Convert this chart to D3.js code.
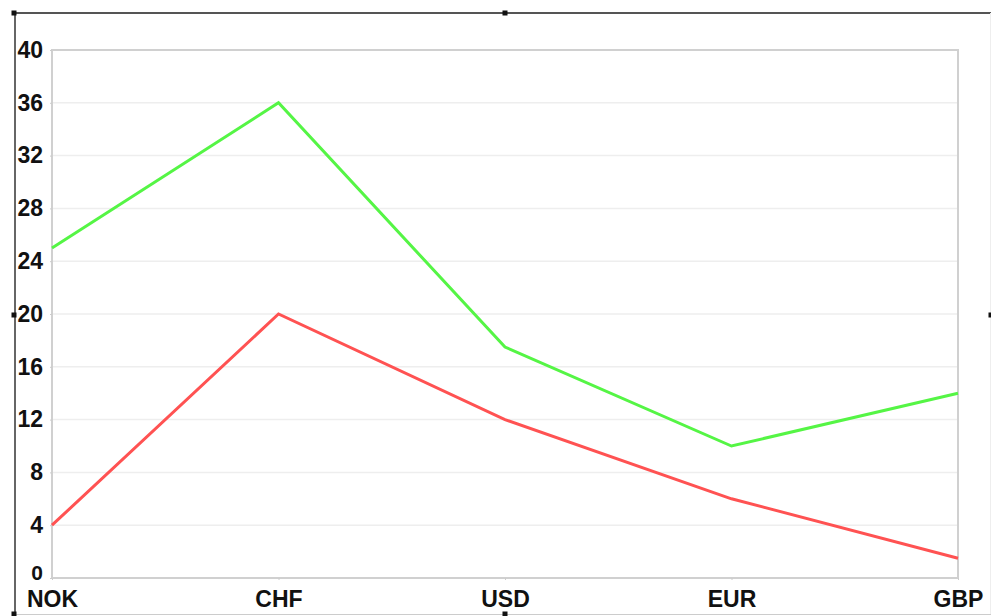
<!DOCTYPE html>
<html>
<head>
<meta charset="utf-8">
<script src="https://cdn.jsdelivr.net/npm/d3@7"></script>
<style>
  body { margin: 0; background: #fff; }
  svg { display: block; }
</style>
</head>
<body>
<script>
// data
const currencies = ["NOK", "CHF", "USD", "EUR", "GBP"];
const greenValues = [25, 36, 17.5, 10, 14];
const redValues = [4, 20, 12, 6, 1.5];
const yTicks = [0, 4, 8, 12, 16, 20, 24, 28, 32, 36, 40];

const width = 991, height = 616;
const plot = { left: 52, right: 958, top: 50, bottom: 578 };
const labelFont = "'Liberation Sans', Arial, sans-serif";

const svg = d3.select("body").append("svg")
  .attr("width", width)
  .attr("height", height);

const x = d3.scalePoint().domain(currencies).range([plot.left, plot.right]);
const y = d3.scaleLinear().domain([0, 40]).range([plot.bottom, plot.top]);

// frame (selection box around the chart)
svg.append("line").attr("x1", 14).attr("x2", 991).attr("y1", 13).attr("y2", 13)
  .attr("stroke", "#555").attr("stroke-width", 2);
svg.append("line").attr("x1", 15).attr("x2", 15).attr("y1", 13).attr("y2", 614)
  .attr("stroke", "#666").attr("stroke-width", 2);
svg.append("line").attr("x1", 14).attr("x2", 991).attr("y1", 614.5).attr("y2", 614.5)
  .attr("stroke", "#ccc").attr("stroke-width", 1);
svg.append("line").attr("x1", 990.5).attr("x2", 990.5).attr("y1", 13).attr("y2", 614)
  .attr("stroke", "#eee").attr("stroke-width", 1);
[[14, 13], [505, 13], [14, 315], [14, 614], [505, 614], [991, 315]].forEach(([hx, hy]) => {
  svg.append("rect").attr("x", hx - 2.5).attr("y", hy - 2.5).attr("width", 5).attr("height", 5)
    .attr("fill", "#111");
});

// gridlines
svg.append("g")
  .selectAll("line")
  .data(yTicks.filter(d => d > 0 && d < 40))
  .enter().append("line")
  .attr("x1", plot.left).attr("x2", plot.right)
  .attr("y1", d => y(d)).attr("y2", d => y(d))
  .attr("stroke", "#eee").attr("stroke-width", 1.5);

// plot border
svg.append("rect")
  .attr("x", plot.left).attr("y", plot.top)
  .attr("width", plot.right - plot.left).attr("height", plot.bottom - plot.top)
  .attr("fill", "none").attr("stroke", "#d0d0d0").attr("stroke-width", 2);

// y axis
const yAxis = svg.append("g")
  .attr("transform", "translate(" + plot.left + ",0)")
  .call(d3.axisLeft(y).tickValues(yTicks).tickSize(2).tickPadding(7));
yAxis.select(".domain").remove();
yAxis.selectAll(".tick line").attr("stroke", "#ccc");
yAxis.selectAll("text")
  .attr("fill", "#111")
  .style("font-family", labelFont)
  .style("font-size", "23px")
  .style("font-weight", "bold");
// the zero label sits a little higher, just above the category labels
yAxis.selectAll(".tick").filter(d => d === 0).select("text")
  .attr("dy", "0.05em")
  .style("font-size", "21px");

// x axis
const xAxis = svg.append("g")
  .attr("transform", "translate(0," + plot.bottom + ")")
  .call(d3.axisBottom(x).tickSize(2).tickPadding(11));
xAxis.select(".domain").remove();
xAxis.selectAll(".tick line").attr("stroke", "#ccc");
xAxis.selectAll("text")
  .attr("fill", "#111")
  .style("font-family", labelFont)
  .style("font-size", "23px")
  .style("font-weight", "bold");

// series lines
const line = d3.line()
  .x((d, i) => x(currencies[i]))
  .y(d => y(d));

svg.append("path")
  .datum(greenValues)
  .attr("d", line)
  .attr("fill", "none")
  .attr("stroke", "#55f545")
  .attr("stroke-width", 3);

svg.append("path")
  .datum(redValues)
  .attr("d", line)
  .attr("fill", "none")
  .attr("stroke", "#ff5252")
  .attr("stroke-width", 3);
</script>
</body>
</html>
